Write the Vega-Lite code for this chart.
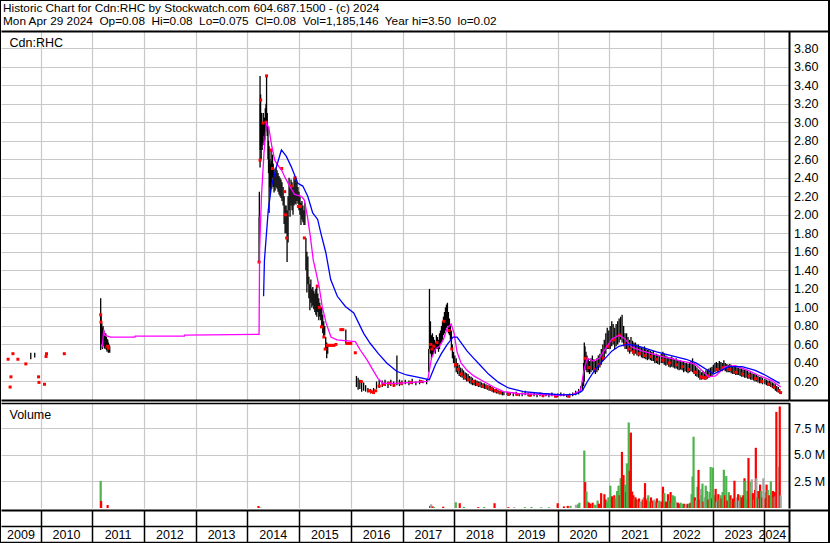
{
"$schema": "https://vega.github.io/schema/vega-lite/v6.json",
"width": 827, "height": 541,
"autosize": {"type": "none"},
"padding": {"left": 1, "top": 1, "right": 2, "bottom": 1},
"background": "black",
"config": {"view": {"fill": "white", "stroke": null}, "font": "Liberation Sans",
  "axis": {"labelFont": "Liberation Sans", "labelFontSize": 12.5, "labelColor": "black", "titleFont": "Liberation Sans", "titleColor": "black"}},
"title": {"text": "Historic Chart for Cdn:RHC by Stockwatch.com 604.687.1500 - (c) 2024",
  "subtitle": "Mon Apr 29 2024\u00a0 Op=0.08\u00a0 Hi=0.08\u00a0 Lo=0.075\u00a0 Cl=0.08\u00a0 Vol=1,185,146\u00a0 Year hi=3.50\u00a0 lo=0.02",
  "anchor": "start", "frame": "group", "orient": "top", "offset": -27, "dx": 2,
  "fontSize": 11.8, "fontWeight": "normal", "color": "black", "font": "Liberation Sans",
  "subtitleFontSize": 11.8, "subtitleColor": "black", "subtitleFont": "Liberation Sans", "subtitlePadding": 1.5},
"datasets": {
 "bars": [
  {"d":"2009-10-23","l":0.44,"h":0.51},{"d":"2009-11-20","l":0.46,"h":0.51},
  {"d":"2011-03-01","l":0.54,"h":1.10},{"d":"2011-03-04","l":0.62,"h":0.92},{"d":"2011-03-09","l":0.60,"h":0.83},{"d":"2011-03-14","l":0.55,"h":0.78},{"d":"2011-03-18","l":0.58,"h":0.80},{"d":"2011-03-23","l":0.60,"h":0.75},{"d":"2011-03-28","l":0.56,"h":0.72},{"d":"2011-04-01","l":0.55,"h":0.70},{"d":"2011-04-06","l":0.58,"h":0.72},{"d":"2011-04-11","l":0.54,"h":0.68},{"d":"2011-04-15","l":0.52,"h":0.66},{"d":"2011-04-20","l":0.55,"h":0.65},{"d":"2011-04-25","l":0.51,"h":0.62},{"d":"2011-04-29","l":0.52,"h":0.60},{"d":"2011-05-04","l":0.51,"h":0.58},
  {"d":"2014-03-24","l":1.49,"h":1.98},{"d":"2014-03-26","l":1.98,"h":2.25},{"d":"2014-03-31","l":2.51,"h":3.50},{"d":"2014-04-02","l":2.70,"h":3.20},{"d":"2014-04-04","l":2.74,"h":3.30},{"d":"2014-04-08","l":2.60,"h":3.05},{"d":"2014-04-11","l":2.75,"h":3.10},{"d":"2014-04-15","l":2.70,"h":2.95},{"d":"2014-04-18","l":2.78,"h":3.00},{"d":"2014-04-23","l":2.85,"h":3.10},{"d":"2014-04-28","l":2.75,"h":3.00},{"d":"2014-05-02","l":2.80,"h":3.05},{"d":"2014-05-07","l":2.85,"h":3.15},{"d":"2014-05-12","l":2.90,"h":3.20},{"d":"2014-05-16","l":2.95,"h":3.50},{"d":"2014-05-21","l":2.85,"h":3.10},{"d":"2014-05-26","l":2.60,"h":2.95},{"d":"2014-05-30","l":2.45,"h":2.80},
  {"d":"2014-06-03","l":2.02,"h":2.74},{"d":"2014-06-08","l":2.30,"h":2.60},{"d":"2014-06-12","l":2.24,"h":2.55},{"d":"2014-06-17","l":2.35,"h":2.70},{"d":"2014-06-22","l":2.28,"h":2.58},{"d":"2014-06-27","l":2.40,"h":2.65},{"d":"2014-07-02","l":2.30,"h":2.55},{"d":"2014-07-08","l":2.24,"h":2.50},{"d":"2014-07-15","l":2.26,"h":2.45},{"d":"2014-07-22","l":2.30,"h":2.51},{"d":"2014-07-29","l":2.28,"h":2.48},{"d":"2014-08-05","l":2.25,"h":2.45},{"d":"2014-08-12","l":2.22,"h":2.42},{"d":"2014-08-19","l":2.20,"h":2.40},{"d":"2014-08-26","l":2.18,"h":2.38},{"d":"2014-09-02","l":2.15,"h":2.35},{"d":"2014-09-10","l":2.10,"h":2.30},{"d":"2014-09-17","l":1.90,"h":2.20},{"d":"2014-09-24","l":1.80,"h":2.10},{"d":"2014-10-01","l":1.80,"h":2.10},{"d":"2014-10-08","l":1.49,"h":2.05},{"d":"2014-10-15","l":1.70,"h":2.20},{"d":"2014-10-22","l":2.05,"h":2.40},{"d":"2014-10-29","l":1.98,"h":2.30},{"d":"2014-11-05","l":2.10,"h":2.38},{"d":"2014-11-12","l":2.05,"h":2.35},{"d":"2014-11-19","l":2.00,"h":2.30},{"d":"2014-11-26","l":2.10,"h":2.40},{"d":"2014-12-03","l":2.12,"h":2.38},{"d":"2014-12-10","l":2.11,"h":2.40},{"d":"2014-12-17","l":2.15,"h":2.35},{"d":"2014-12-24","l":2.12,"h":2.30},{"d":"2014-12-31","l":2.05,"h":2.25},
  {"d":"2015-01-07","l":2.00,"h":2.20},{"d":"2015-01-14","l":1.89,"h":2.13},{"d":"2015-01-21","l":1.95,"h":2.15},{"d":"2015-01-28","l":1.92,"h":2.10},{"d":"2015-02-04","l":1.89,"h":2.05},{"d":"2015-02-11","l":1.89,"h":2.13},{"d":"2015-02-18","l":1.40,"h":1.75},{"d":"2015-02-25","l":1.16,"h":1.60},{"d":"2015-03-04","l":1.25,"h":1.55},{"d":"2015-03-11","l":1.10,"h":1.33},{"d":"2015-03-18","l":0.97,"h":1.25},{"d":"2015-03-25","l":1.05,"h":1.30},{"d":"2015-04-01","l":1.00,"h":1.20},{"d":"2015-04-08","l":1.02,"h":1.22},{"d":"2015-04-15","l":0.98,"h":1.18},{"d":"2015-04-22","l":0.95,"h":1.15},{"d":"2015-04-29","l":0.92,"h":1.20},{"d":"2015-05-06","l":0.90,"h":1.22},{"d":"2015-05-13","l":0.95,"h":1.15},{"d":"2015-05-20","l":0.86,"h":1.10},{"d":"2015-05-27","l":0.90,"h":1.05},{"d":"2015-06-03","l":0.86,"h":1.00},{"d":"2015-06-10","l":0.78,"h":1.00},{"d":"2015-06-17","l":0.72,"h":0.92},{"d":"2015-06-24","l":0.68,"h":0.85},{"d":"2015-07-01","l":0.70,"h":0.80},{"d":"2015-07-08","l":0.55,"h":0.68},{"d":"2015-07-15","l":0.45,"h":0.62},{"d":"2015-07-22","l":0.50,"h":0.60},{"d":"2015-11-27","l":0.61,"h":0.76},
  {"d":"2016-02-10","l":0.14,"h":0.26},{"d":"2016-02-22","l":0.11,"h":0.24},{"d":"2016-03-05","l":0.12,"h":0.22},{"d":"2016-03-18","l":0.09,"h":0.20},{"d":"2016-04-01","l":0.10,"h":0.19},{"d":"2016-04-15","l":0.09,"h":0.16},{"d":"2016-05-01","l":0.08,"h":0.13},{"d":"2016-05-20","l":0.07,"h":0.12},{"d":"2016-06-10","l":0.08,"h":0.13},{"d":"2016-07-01","l":0.12,"h":0.20},{"d":"2016-07-20","l":0.13,"h":0.22},{"d":"2016-08-10","l":0.14,"h":0.21},{"d":"2016-08-30","l":0.15,"h":0.22},{"d":"2016-09-20","l":0.13,"h":0.20},{"d":"2016-10-10","l":0.15,"h":0.22},{"d":"2016-10-30","l":0.14,"h":0.20},{"d":"2016-11-22","l":0.16,"h":0.48},{"d":"2016-12-10","l":0.15,"h":0.22},{"d":"2016-12-28","l":0.16,"h":0.21},
  {"d":"2017-01-20","l":0.17,"h":0.22},{"d":"2017-02-15","l":0.16,"h":0.21},{"d":"2017-03-10","l":0.17,"h":0.23},{"d":"2017-04-05","l":0.16,"h":0.20},{"d":"2017-05-01","l":0.17,"h":0.22},{"d":"2017-05-25","l":0.18,"h":0.21},{"d":"2017-06-20","l":0.17,"h":0.22},
  {"d":"2017-07-05","l":0.30,"h":0.55},{"d":"2017-07-10","l":0.55,"h":1.20},{"d":"2017-07-17","l":0.50,"h":0.85},{"d":"2017-07-24","l":0.45,"h":0.70},{"d":"2017-07-31","l":0.48,"h":0.72},{"d":"2017-08-07","l":0.50,"h":0.68},{"d":"2017-08-14","l":0.52,"h":0.65},{"d":"2017-08-21","l":0.50,"h":0.62},{"d":"2017-08-28","l":0.55,"h":0.70},{"d":"2017-09-05","l":0.55,"h":0.68},{"d":"2017-09-12","l":0.52,"h":0.65},{"d":"2017-09-19","l":0.55,"h":0.72},{"d":"2017-09-26","l":0.60,"h":0.75},{"d":"2017-10-03","l":0.62,"h":0.80},{"d":"2017-10-10","l":0.65,"h":0.85},{"d":"2017-10-17","l":0.70,"h":0.90},{"d":"2017-10-24","l":0.72,"h":0.95},{"d":"2017-10-31","l":0.75,"h":1.00},{"d":"2017-11-07","l":0.78,"h":1.03},{"d":"2017-11-14","l":0.80,"h":1.05},{"d":"2017-11-21","l":0.72,"h":0.95},{"d":"2017-11-28","l":0.70,"h":0.88},{"d":"2017-12-05","l":0.65,"h":0.82},{"d":"2017-12-12","l":0.55,"h":0.75},{"d":"2017-12-19","l":0.45,"h":0.60},{"d":"2017-12-27","l":0.40,"h":0.52},
  {"d":"2018-01-05","l":0.35,"h":0.48},{"d":"2018-01-15","l":0.30,"h":0.45},{"d":"2018-01-25","l":0.28,"h":0.40},{"d":"2018-02-05","l":0.26,"h":0.38},{"d":"2018-02-15","l":0.25,"h":0.35},{"d":"2018-02-26","l":0.24,"h":0.34},{"d":"2018-03-08","l":0.22,"h":0.32},{"d":"2018-03-19","l":0.22,"h":0.30},{"d":"2018-03-29","l":0.20,"h":0.29},{"d":"2018-04-09","l":0.20,"h":0.28},{"d":"2018-04-19","l":0.18,"h":0.26},{"d":"2018-04-30","l":0.17,"h":0.25},{"d":"2018-05-10","l":0.16,"h":0.24},{"d":"2018-05-21","l":0.16,"h":0.22},{"d":"2018-05-31","l":0.15,"h":0.22},{"d":"2018-06-11","l":0.15,"h":0.21},{"d":"2018-06-21","l":0.14,"h":0.20},{"d":"2018-07-02","l":0.14,"h":0.20},{"d":"2018-07-12","l":0.13,"h":0.19},{"d":"2018-07-23","l":0.13,"h":0.18},{"d":"2018-08-02","l":0.12,"h":0.18},{"d":"2018-08-13","l":0.12,"h":0.17},{"d":"2018-08-23","l":0.11,"h":0.16},{"d":"2018-09-04","l":0.10,"h":0.16},{"d":"2018-09-14","l":0.10,"h":0.15},{"d":"2018-09-25","l":0.09,"h":0.14},{"d":"2018-10-05","l":0.08,"h":0.13},{"d":"2018-10-16","l":0.08,"h":0.12},{"d":"2018-10-26","l":0.07,"h":0.12},{"d":"2018-11-06","l":0.07,"h":0.11},{"d":"2018-11-16","l":0.06,"h":0.10},{"d":"2018-11-27","l":0.06,"h":0.10},{"d":"2018-12-07","l":0.05,"h":0.09},{"d":"2018-12-18","l":0.05,"h":0.09},
  {"d":"2019-01-10","l":0.05,"h":0.09},{"d":"2019-02-01","l":0.05,"h":0.08},{"d":"2019-02-22","l":0.04,"h":0.08},{"d":"2019-03-15","l":0.05,"h":0.09},{"d":"2019-04-05","l":0.04,"h":0.07},{"d":"2019-04-26","l":0.04,"h":0.08},{"d":"2019-05-17","l":0.05,"h":0.10},{"d":"2019-06-07","l":0.04,"h":0.08},{"d":"2019-06-28","l":0.04,"h":0.07},{"d":"2019-07-19","l":0.04,"h":0.08},{"d":"2019-08-09","l":0.03,"h":0.07},{"d":"2019-08-30","l":0.04,"h":0.08},{"d":"2019-09-20","l":0.03,"h":0.07},{"d":"2019-10-11","l":0.04,"h":0.07},{"d":"2019-11-01","l":0.03,"h":0.07},{"d":"2019-11-22","l":0.04,"h":0.08},{"d":"2019-12-13","l":0.03,"h":0.06},
  {"d":"2020-01-03","l":0.03,"h":0.07},{"d":"2020-01-24","l":0.04,"h":0.08},{"d":"2020-02-14","l":0.04,"h":0.07},{"d":"2020-03-06","l":0.03,"h":0.06},{"d":"2020-03-27","l":0.03,"h":0.07},{"d":"2020-04-17","l":0.04,"h":0.08},{"d":"2020-05-08","l":0.05,"h":0.10},{"d":"2020-05-29","l":0.06,"h":0.12},{"d":"2020-06-12","l":0.08,"h":0.15},{"d":"2020-06-26","l":0.10,"h":0.20},{"d":"2020-07-03","l":0.15,"h":0.40},{"d":"2020-07-08","l":0.20,"h":0.62},{"d":"2020-07-13","l":0.35,"h":0.58},{"d":"2020-07-20","l":0.32,"h":0.52},{"d":"2020-07-27","l":0.30,"h":0.48},{"d":"2020-08-05","l":0.30,"h":0.45},{"d":"2020-08-14","l":0.28,"h":0.42},{"d":"2020-08-24","l":0.30,"h":0.45},{"d":"2020-09-03","l":0.32,"h":0.48},{"d":"2020-09-14","l":0.30,"h":0.44},{"d":"2020-09-24","l":0.28,"h":0.42},{"d":"2020-10-05","l":0.30,"h":0.45},{"d":"2020-10-15","l":0.32,"h":0.48},{"d":"2020-10-26","l":0.35,"h":0.50},{"d":"2020-11-05","l":0.38,"h":0.55},{"d":"2020-11-16","l":0.42,"h":0.60},{"d":"2020-11-26","l":0.45,"h":0.65},{"d":"2020-12-07","l":0.50,"h":0.72},{"d":"2020-12-17","l":0.55,"h":0.78},{"d":"2020-12-28","l":0.55,"h":0.75},
  {"d":"2021-01-07","l":0.55,"h":0.80},{"d":"2021-01-18","l":0.58,"h":0.85},{"d":"2021-01-28","l":0.60,"h":0.82},{"d":"2021-02-08","l":0.55,"h":0.78},{"d":"2021-02-18","l":0.58,"h":0.82},{"d":"2021-03-01","l":0.60,"h":0.85},{"d":"2021-03-11","l":0.62,"h":0.88},{"d":"2021-03-22","l":0.65,"h":0.90},{"d":"2021-04-01","l":0.62,"h":0.92},{"d":"2021-04-12","l":0.58,"h":0.80},{"d":"2021-04-22","l":0.55,"h":0.72},{"d":"2021-05-03","l":0.55,"h":0.72},{"d":"2021-05-13","l":0.52,"h":0.68},{"d":"2021-05-24","l":0.50,"h":0.65},{"d":"2021-06-03","l":0.52,"h":0.68},{"d":"2021-06-14","l":0.50,"h":0.64},{"d":"2021-06-24","l":0.48,"h":0.62},{"d":"2021-07-05","l":0.50,"h":0.62},{"d":"2021-07-15","l":0.48,"h":0.60},{"d":"2021-07-26","l":0.47,"h":0.60},{"d":"2021-08-05","l":0.48,"h":0.58},{"d":"2021-08-16","l":0.46,"h":0.57},{"d":"2021-08-26","l":0.45,"h":0.56},{"d":"2021-09-06","l":0.45,"h":0.58},{"d":"2021-09-16","l":0.44,"h":0.55},{"d":"2021-09-27","l":0.43,"h":0.54},{"d":"2021-10-07","l":0.44,"h":0.55},{"d":"2021-10-18","l":0.43,"h":0.53},{"d":"2021-10-28","l":0.42,"h":0.52},{"d":"2021-11-08","l":0.42,"h":0.53},{"d":"2021-11-18","l":0.40,"h":0.50},{"d":"2021-11-29","l":0.40,"h":0.50},{"d":"2021-12-09","l":0.39,"h":0.49},{"d":"2021-12-20","l":0.38,"h":0.48},
  {"d":"2022-01-03","l":0.40,"h":0.50},{"d":"2022-01-14","l":0.40,"h":0.52},{"d":"2022-01-24","l":0.38,"h":0.50},{"d":"2022-02-04","l":0.37,"h":0.48},{"d":"2022-02-14","l":0.38,"h":0.47},{"d":"2022-02-25","l":0.36,"h":0.46},{"d":"2022-03-07","l":0.35,"h":0.46},{"d":"2022-03-18","l":0.36,"h":0.47},{"d":"2022-03-28","l":0.35,"h":0.45},{"d":"2022-04-08","l":0.34,"h":0.44},{"d":"2022-04-18","l":0.34,"h":0.45},{"d":"2022-04-29","l":0.33,"h":0.43},{"d":"2022-05-09","l":0.32,"h":0.42},{"d":"2022-05-20","l":0.33,"h":0.43},{"d":"2022-05-30","l":0.32,"h":0.42},{"d":"2022-06-10","l":0.30,"h":0.42},{"d":"2022-06-20","l":0.31,"h":0.40},{"d":"2022-07-01","l":0.30,"h":0.40},{"d":"2022-07-11","l":0.29,"h":0.39},{"d":"2022-07-22","l":0.30,"h":0.40},{"d":"2022-08-01","l":0.31,"h":0.42},{"d":"2022-08-12","l":0.30,"h":0.45},{"d":"2022-08-22","l":0.28,"h":0.40},{"d":"2022-09-02","l":0.26,"h":0.37},{"d":"2022-09-12","l":0.25,"h":0.35},{"d":"2022-09-23","l":0.24,"h":0.33},{"d":"2022-10-03","l":0.22,"h":0.32},{"d":"2022-10-14","l":0.22,"h":0.30},{"d":"2022-10-24","l":0.23,"h":0.31},{"d":"2022-11-04","l":0.22,"h":0.30},{"d":"2022-11-14","l":0.22,"h":0.32},{"d":"2022-11-25","l":0.23,"h":0.33},{"d":"2022-12-05","l":0.24,"h":0.34},{"d":"2022-12-16","l":0.25,"h":0.35},{"d":"2022-12-27","l":0.26,"h":0.36},
  {"d":"2023-01-06","l":0.28,"h":0.38},{"d":"2023-01-17","l":0.30,"h":0.40},{"d":"2023-01-27","l":0.31,"h":0.41},{"d":"2023-02-07","l":0.30,"h":0.40},{"d":"2023-02-17","l":0.32,"h":0.42},{"d":"2023-02-28","l":0.32,"h":0.41},{"d":"2023-03-10","l":0.31,"h":0.40},{"d":"2023-03-21","l":0.32,"h":0.43},{"d":"2023-03-31","l":0.31,"h":0.40},{"d":"2023-04-11","l":0.30,"h":0.39},{"d":"2023-04-21","l":0.30,"h":0.38},{"d":"2023-05-02","l":0.30,"h":0.39},{"d":"2023-05-12","l":0.29,"h":0.38},{"d":"2023-05-23","l":0.28,"h":0.36},{"d":"2023-06-02","l":0.28,"h":0.37},{"d":"2023-06-13","l":0.27,"h":0.36},{"d":"2023-06-23","l":0.27,"h":0.35},{"d":"2023-07-04","l":0.27,"h":0.35},{"d":"2023-07-14","l":0.26,"h":0.34},{"d":"2023-07-25","l":0.25,"h":0.34},{"d":"2023-08-04","l":0.25,"h":0.33},{"d":"2023-08-15","l":0.24,"h":0.33},{"d":"2023-08-25","l":0.24,"h":0.32},{"d":"2023-09-05","l":0.23,"h":0.32},{"d":"2023-09-15","l":0.23,"h":0.30},{"d":"2023-09-26","l":0.22,"h":0.30},{"d":"2023-10-06","l":0.22,"h":0.29},{"d":"2023-10-17","l":0.21,"h":0.28},{"d":"2023-10-27","l":0.20,"h":0.28},{"d":"2023-11-07","l":0.20,"h":0.27},{"d":"2023-11-17","l":0.19,"h":0.26},{"d":"2023-11-28","l":0.18,"h":0.25},{"d":"2023-12-08","l":0.18,"h":0.25},{"d":"2023-12-19","l":0.17,"h":0.24},
  {"d":"2024-01-05","l":0.17,"h":0.23},{"d":"2024-01-16","l":0.16,"h":0.22},{"d":"2024-01-26","l":0.15,"h":0.21},{"d":"2024-02-06","l":0.15,"h":0.21},{"d":"2024-02-16","l":0.14,"h":0.20},{"d":"2024-02-27","l":0.13,"h":0.19},{"d":"2024-03-08","l":0.12,"h":0.18},{"d":"2024-03-19","l":0.10,"h":0.17},{"d":"2024-03-29","l":0.09,"h":0.15},{"d":"2024-04-09","l":0.08,"h":0.14},{"d":"2024-04-19","l":0.07,"h":0.12},{"d":"2024-04-29","l":0.075,"h":0.08}
 ],
 "dots": [
  {"d":"2009-05-16","p":0.44},{"d":"2009-05-30","p":0.14},{"d":"2009-06-05","p":0.25},{"d":"2009-06-19","p":0.50},{"d":"2009-07-24","p":0.44},{"d":"2009-09-18","p":0.39},{"d":"2009-12-17","p":0.25},{"d":"2009-12-20","p":0.19},{"d":"2010-01-28","p":0.17},{"d":"2010-02-08","p":0.47},{"d":"2010-02-11","p":0.50},{"d":"2010-06-17","p":0.50},
  {"d":"2011-03-01","p":0.92},{"d":"2011-03-03","p":0.84},{"d":"2011-04-19","p":0.58},{"d":"2011-04-24","p":0.56},
  {"d":"2014-03-24","p":1.49},{"d":"2014-03-31","p":2.59},{"d":"2014-04-04","p":3.24},{"d":"2014-04-21","p":2.99},{"d":"2014-05-16","p":3.50},{"d":"2014-05-12","p":3.00},{"d":"2014-06-20","p":2.70},{"d":"2014-06-26","p":2.50},{"d":"2014-08-31","p":2.50},{"d":"2014-09-21","p":2.25},{"d":"2014-09-26","p":2.00},{"d":"2014-10-05","p":1.75},{"d":"2014-11-06","p":2.31},{"d":"2014-12-03","p":2.40},{"d":"2014-12-27","p":2.09},{"d":"2015-01-10","p":2.09},{"d":"2015-02-07","p":1.75},{"d":"2015-05-09","p":1.23},{"d":"2015-05-24","p":1.00},{"d":"2015-06-08","p":0.79},{"d":"2015-06-25","p":0.68},{"d":"2015-07-04","p":0.55},{"d":"2015-07-18","p":0.59},{"d":"2015-07-25","p":0.59},{"d":"2015-08-07","p":0.59},{"d":"2015-08-21","p":0.59},{"d":"2015-09-04","p":0.59},{"d":"2015-09-18","p":0.60},{"d":"2015-10-23","p":0.76},{"d":"2015-11-06","p":0.76},{"d":"2015-12-04","p":0.61},{"d":"2015-12-20","p":0.61},{"d":"2016-01-01","p":0.61},{"d":"2016-02-02","p":0.51},{"d":"2016-03-15","p":0.20},{"d":"2016-05-10","p":0.10},{"d":"2016-05-25","p":0.09},{"d":"2016-06-10","p":0.08},{"d":"2016-06-25","p":0.10},{"d":"2016-07-20","p":0.15},{"d":"2016-08-20","p":0.17},{"d":"2016-10-01","p":0.18},{"d":"2016-11-01","p":0.16},{"d":"2016-12-20","p":0.18},{"d":"2017-03-01","p":0.19},{"d":"2017-05-10","p":0.20},
  {"d":"2017-07-20","p":0.60},{"d":"2017-07-28","p":0.55},{"d":"2017-08-10","p":0.58},{"d":"2017-09-01","p":0.62},{"d":"2017-10-20","p":0.85},{"d":"2017-11-25","p":0.75},{"d":"2017-12-15","p":0.55},{"d":"2018-01-10","p":0.38},{"d":"2018-01-30","p":0.33},{"d":"2018-02-20","p":0.28},{"d":"2018-03-15","p":0.25},{"d":"2018-04-10","p":0.22},{"d":"2018-05-15","p":0.20},{"d":"2018-06-15","p":0.17},{"d":"2018-07-20","p":0.15},{"d":"2018-08-20","p":0.14},{"d":"2018-09-20","p":0.12},{"d":"2018-10-20","p":0.10},{"d":"2018-11-20","p":0.08},{"d":"2019-01-20","p":0.06},{"d":"2019-03-20","p":0.06},{"d":"2019-06-20","p":0.05},{"d":"2019-09-20","p":0.05},{"d":"2019-12-20","p":0.04},{"d":"2020-03-20","p":0.04},{"d":"2020-07-15","p":0.45},{"d":"2020-08-10","p":0.35},{"d":"2020-09-20","p":0.33},{"d":"2020-10-20","p":0.38},{"d":"2020-11-20","p":0.45},{"d":"2020-12-20","p":0.58},{"d":"2021-02-01","p":0.65},{"d":"2021-03-15","p":0.70},{"d":"2021-04-20","p":0.60},{"d":"2021-05-20","p":0.55},{"d":"2021-06-20","p":0.52},{"d":"2021-08-01","p":0.50},{"d":"2021-09-10","p":0.48},{"d":"2021-10-20","p":0.47},{"d":"2021-12-01","p":0.44},{"d":"2022-01-15","p":0.43},{"d":"2022-03-01","p":0.40},{"d":"2022-04-20","p":0.38},{"d":"2022-06-01","p":0.36},{"d":"2022-07-15","p":0.33},{"d":"2022-09-01","p":0.30},{"d":"2022-10-10","p":0.25},{"d":"2022-10-25","p":0.24},{"d":"2022-11-10","p":0.24},{"d":"2022-12-01","p":0.26},{"d":"2023-02-01","p":0.33},{"d":"2023-03-15","p":0.35},{"d":"2023-05-01","p":0.33},{"d":"2023-06-15","p":0.30},{"d":"2023-08-01","p":0.28},{"d":"2023-09-15","p":0.26},{"d":"2023-11-01","p":0.23},{"d":"2023-12-15","p":0.20},{"d":"2024-02-01","p":0.17},{"d":"2024-03-10","p":0.14},{"d":"2024-04-10","p":0.10},{"d":"2024-04-25","p":0.08}
 ],
 "ma1": [
  {"d":"2011-03-08","v":0.56},{"d":"2011-03-14","v":0.60},{"d":"2011-03-22","v":0.76},{"d":"2011-03-29","v":0.70},{"d":"2011-05-10","v":0.68},{"d":"2011-10-29","v":0.68},{"d":"2011-10-30","v":0.69},{"d":"2012-10-13","v":0.69},{"d":"2012-10-14","v":0.70},{"d":"2014-03-24","v":0.71},
  {"d":"2014-03-28","v":1.62},{"d":"2014-04-10","v":2.20},{"d":"2014-04-28","v":2.67},{"d":"2014-05-14","v":2.99},{"d":"2014-06-01","v":2.94},{"d":"2014-06-22","v":2.74},{"d":"2014-07-13","v":2.59},{"d":"2014-08-10","v":2.52},{"d":"2014-08-31","v":2.48},{"d":"2014-09-21","v":2.41},{"d":"2014-10-26","v":2.31},{"d":"2014-11-30","v":2.22},{"d":"2015-01-17","v":2.20},{"d":"2015-02-07","v":2.16},{"d":"2015-03-01","v":1.98},{"d":"2015-03-21","v":1.77},{"d":"2015-04-11","v":1.51},{"d":"2015-05-02","v":1.37},{"d":"2015-05-23","v":1.22},{"d":"2015-06-13","v":1.01},{"d":"2015-07-11","v":0.83},{"d":"2015-08-14","v":0.68},{"d":"2015-09-25","v":0.65},{"d":"2016-02-02","v":0.63},{"d":"2016-03-08","v":0.54},{"d":"2016-04-26","v":0.43},{"d":"2016-06-07","v":0.32},{"d":"2016-07-12","v":0.23},{"d":"2016-08-16","v":0.18},{"d":"2016-11-22","v":0.18},{"d":"2017-06-26","v":0.20},
  {"d":"2017-07-24","v":0.45},{"d":"2017-08-21","v":0.55},{"d":"2017-09-18","v":0.58},{"d":"2017-10-16","v":0.65},{"d":"2017-11-13","v":0.78},{"d":"2017-12-10","v":0.82},{"d":"2017-12-31","v":0.72},{"d":"2018-01-21","v":0.52},{"d":"2018-02-18","v":0.40},{"d":"2018-04-01","v":0.32},{"d":"2018-05-19","v":0.26},{"d":"2018-07-28","v":0.20},{"d":"2018-10-06","v":0.14},{"d":"2018-12-15","v":0.09},{"d":"2019-03-28","v":0.07},{"d":"2019-08-15","v":0.06},{"d":"2020-01-02","v":0.05},{"d":"2020-04-16","v":0.06},{"d":"2020-06-11","v":0.10},{"d":"2020-07-09","v":0.35},{"d":"2020-07-30","v":0.45},{"d":"2020-09-10","v":0.42},{"d":"2020-10-21","v":0.45},{"d":"2020-12-02","v":0.55},{"d":"2021-01-20","v":0.66},{"d":"2021-03-10","v":0.70},{"d":"2021-04-21","v":0.66},{"d":"2021-06-09","v":0.57},{"d":"2021-08-18","v":0.53},{"d":"2021-10-27","v":0.50},{"d":"2022-01-04","v":0.47},{"d":"2022-03-14","v":0.45},{"d":"2022-05-23","v":0.42},{"d":"2022-07-31","v":0.40},{"d":"2022-09-05","v":0.38},{"d":"2022-12-04","v":0.25},{"d":"2023-01-22","v":0.26},{"d":"2023-04-01","v":0.36},{"d":"2023-06-10","v":0.37},{"d":"2023-09-08","v":0.32},{"d":"2023-11-17","v":0.27},{"d":"2024-02-23","v":0.21},{"d":"2024-04-26","v":0.14}
 ],
 "ma2": [
  {"d":"2014-04-25","v":1.12},{"d":"2014-05-01","v":1.51},{"d":"2014-05-28","v":2.05},{"d":"2014-06-20","v":2.31},{"d":"2014-07-25","v":2.52},{"d":"2014-08-29","v":2.70},{"d":"2014-10-03","v":2.63},{"d":"2014-11-06","v":2.52},{"d":"2014-12-23","v":2.34},{"d":"2015-01-27","v":2.31},{"d":"2015-03-03","v":2.20},{"d":"2015-04-07","v":2.02},{"d":"2015-05-12","v":1.95},{"d":"2015-06-04","v":1.80},{"d":"2015-07-09","v":1.59},{"d":"2015-08-12","v":1.30},{"d":"2015-09-28","v":1.12},{"d":"2015-11-24","v":1.01},{"d":"2016-01-22","v":0.94},{"d":"2016-02-26","v":0.83},{"d":"2016-04-01","v":0.72},{"d":"2016-05-18","v":0.61},{"d":"2016-07-14","v":0.50},{"d":"2016-09-11","v":0.40},{"d":"2016-11-20","v":0.31},{"d":"2017-01-29","v":0.27},{"d":"2017-04-08","v":0.25},{"d":"2017-07-09","v":0.22},
  {"d":"2017-08-21","v":0.38},{"d":"2017-10-02","v":0.50},{"d":"2017-11-13","v":0.60},{"d":"2017-12-24","v":0.68},{"d":"2018-01-21","v":0.68},{"d":"2018-02-18","v":0.62},{"d":"2018-04-01","v":0.53},{"d":"2018-05-19","v":0.45},{"d":"2018-07-07","v":0.37},{"d":"2018-08-31","v":0.28},{"d":"2018-11-10","v":0.19},{"d":"2019-01-19","v":0.13},{"d":"2019-05-05","v":0.09},{"d":"2019-09-20","v":0.07},{"d":"2020-02-05","v":0.055},{"d":"2020-05-06","v":0.06},{"d":"2020-06-24","v":0.10},{"d":"2020-07-30","v":0.20},{"d":"2020-09-10","v":0.30},{"d":"2020-10-21","v":0.38},{"d":"2020-12-02","v":0.45},{"d":"2021-01-20","v":0.53},{"d":"2021-03-10","v":0.58},{"d":"2021-05-05","v":0.60},{"d":"2021-06-30","v":0.59},{"d":"2021-09-08","v":0.56},{"d":"2021-12-01","v":0.52},{"d":"2022-03-14","v":0.48},{"d":"2022-06-27","v":0.44},{"d":"2022-09-05","v":0.40},{"d":"2023-01-08","v":0.28},{"d":"2023-04-22","v":0.36},{"d":"2023-07-28","v":0.36},{"d":"2023-10-29","v":0.32},{"d":"2024-01-06","v":0.27},{"d":"2024-04-19","v":0.18}
 ],
 "vol": [
  {"d":"2011-03-01","v":2550000,"c":"up"},{"d":"2011-03-04","v":660000,"c":"down"},{"d":"2011-04-19","v":280000,"c":"down"},
  {"d":"2014-03-20","v":190000,"c":"down"},{"d":"2014-04-03","v":50000,"c":"up"},
  {"d":"2017-07-15","v":200000,"c":"down"},{"d":"2017-07-22","v":350000,"c":"flat"},{"d":"2017-08-02","v":150000,"c":"down"},{"d":"2017-08-10","v":100000,"c":"up"},{"d":"2017-10-15","v":120000,"c":"down"},{"d":"2018-01-12","v":540000,"c":"up"},{"d":"2018-02-09","v":450000,"c":"down"},{"d":"2018-03-10","v":100000,"c":"up"},{"d":"2018-06-20","v":80000,"c":"down"},{"d":"2018-08-01","v":100000,"c":"up"},{"d":"2018-10-13","v":450000,"c":"down"},{"d":"2019-01-19","v":80000,"c":"down"},{"d":"2019-03-01","v":80000,"c":"flat"},{"d":"2019-05-15","v":80000,"c":"up"},{"d":"2019-07-01","v":100000,"c":"up"},{"d":"2019-09-08","v":60000,"c":"up"},{"d":"2019-11-01","v":70000,"c":"up"},
  {"d":"2020-01-02","v":450000,"c":"down"},{"d":"2020-02-15","v":150000,"c":"down"},{"d":"2020-03-13","v":200000,"c":"down"},{"d":"2020-04-01","v":200000,"c":"up"},{"d":"2020-05-10","v":300000,"c":"flat"},{"d":"2020-05-25","v":350000,"c":"up"},{"d":"2020-06-03","v":500000,"c":"up"},{"d":"2020-07-08","v":5400000,"c":"up"},{"d":"2020-07-14","v":2440000,"c":"down"},{"d":"2020-07-23","v":1550000,"c":"up"},{"d":"2020-08-01","v":600000,"c":"up"},{"d":"2020-08-11","v":500000,"c":"down"},{"d":"2020-08-20","v":400000,"c":"down"},{"d":"2020-09-05","v":500000,"c":"down"},{"d":"2020-09-15","v":300000,"c":"up"},{"d":"2020-09-25","v":300000,"c":"up"},{"d":"2020-10-10","v":700000,"c":"up"},{"d":"2020-10-20","v":400000,"c":"down"},{"d":"2020-11-04","v":1400000,"c":"down"},{"d":"2020-11-27","v":1300000,"c":"down"},{"d":"2020-12-05","v":800000,"c":"down"},{"d":"2020-12-16","v":600000,"c":"up"},{"d":"2020-12-25","v":1000000,"c":"up"},
  {"d":"2021-01-08","v":2100000,"c":"up"},{"d":"2021-01-20","v":1100000,"c":"down"},{"d":"2021-02-05","v":1200000,"c":"down"},{"d":"2021-02-15","v":900000,"c":"up"},{"d":"2021-02-25","v":1600000,"c":"up"},{"d":"2021-03-07","v":2100000,"c":"up"},{"d":"2021-03-15","v":1200000,"c":"down"},{"d":"2021-03-22","v":2800000,"c":"up"},{"d":"2021-03-31","v":5280000,"c":"down"},{"d":"2021-04-05","v":1700000,"c":"down"},{"d":"2021-04-11","v":3100000,"c":"down"},{"d":"2021-04-23","v":2200000,"c":"up"},{"d":"2021-04-30","v":1500000,"c":"down"},{"d":"2021-05-05","v":4200000,"c":"up"},{"d":"2021-05-10","v":2600000,"c":"up"},{"d":"2021-05-18","v":8040000,"c":"up"},{"d":"2021-05-25","v":3500000,"c":"down"},{"d":"2021-06-02","v":7090000,"c":"down"},{"d":"2021-06-06","v":1300000,"c":"down"},{"d":"2021-06-11","v":1550000,"c":"down"},{"d":"2021-06-20","v":1200000,"c":"down"},{"d":"2021-06-28","v":900000,"c":"up"},{"d":"2021-07-05","v":1000000,"c":"down"},{"d":"2021-07-13","v":800000,"c":"down"},{"d":"2021-07-22","v":700000,"c":"up"},{"d":"2021-07-30","v":900000,"c":"down"},{"d":"2021-08-06","v":600000,"c":"up"},{"d":"2021-08-15","v":600000,"c":"flat"},{"d":"2021-08-25","v":800000,"c":"down"},{"d":"2021-09-02","v":1000000,"c":"up"},{"d":"2021-09-10","v":2340000,"c":"down"},{"d":"2021-09-20","v":700000,"c":"down"},{"d":"2021-09-28","v":900000,"c":"down"},{"d":"2021-10-03","v":1200000,"c":"up"},{"d":"2021-10-12","v":600000,"c":"up"},{"d":"2021-10-22","v":1000000,"c":"down"},{"d":"2021-10-30","v":500000,"c":"up"},{"d":"2021-11-07","v":700000,"c":"down"},{"d":"2021-11-15","v":800000,"c":"flat"},{"d":"2021-11-25","v":600000,"c":"up"},{"d":"2021-12-03","v":900000,"c":"down"},{"d":"2021-12-12","v":500000,"c":"flat"},{"d":"2021-12-20","v":700000,"c":"up"},
  {"d":"2022-01-05","v":600000,"c":"down"},{"d":"2022-01-15","v":2000000,"c":"down"},{"d":"2022-01-25","v":1400000,"c":"up"},{"d":"2022-02-05","v":600000,"c":"down"},{"d":"2022-02-19","v":1300000,"c":"down"},{"d":"2022-02-28","v":700000,"c":"up"},{"d":"2022-03-10","v":1500000,"c":"down"},{"d":"2022-03-18","v":500000,"c":"up"},{"d":"2022-03-26","v":1200000,"c":"up"},{"d":"2022-04-08","v":1100000,"c":"up"},{"d":"2022-04-18","v":600000,"c":"flat"},{"d":"2022-04-30","v":500000,"c":"down"},{"d":"2022-05-10","v":400000,"c":"down"},{"d":"2022-05-20","v":500000,"c":"up"},{"d":"2022-06-04","v":400000,"c":"up"},{"d":"2022-06-15","v":400000,"c":"down"},{"d":"2022-06-25","v":300000,"c":"flat"},{"d":"2022-07-08","v":400000,"c":"down"},{"d":"2022-07-20","v":400000,"c":"up"},{"d":"2022-07-28","v":500000,"c":"down"},{"d":"2022-08-05","v":1300000,"c":"up"},{"d":"2022-08-12","v":2970000,"c":"up"},{"d":"2022-08-19","v":6700000,"c":"up"},{"d":"2022-08-28","v":1000000,"c":"down"},{"d":"2022-09-05","v":700000,"c":"flat"},{"d":"2022-09-16","v":2000000,"c":"up"},{"d":"2022-09-23","v":3580000,"c":"down"},{"d":"2022-10-01","v":800000,"c":"down"},{"d":"2022-10-09","v":1800000,"c":"flat"},{"d":"2022-10-15","v":1200000,"c":"up"},{"d":"2022-10-21","v":2300000,"c":"up"},{"d":"2022-10-28","v":600000,"c":"down"},{"d":"2022-11-05","v":1000000,"c":"flat"},{"d":"2022-11-13","v":2100000,"c":"up"},{"d":"2022-11-22","v":1600000,"c":"up"},{"d":"2022-12-02","v":800000,"c":"down"},{"d":"2022-12-10","v":1500000,"c":"up"},{"d":"2022-12-18","v":3860000,"c":"up"},{"d":"2022-12-28","v":900000,"c":"down"},
  {"d":"2023-01-03","v":3800000,"c":"up"},{"d":"2023-01-12","v":1200000,"c":"up"},{"d":"2023-01-22","v":1800000,"c":"down"},{"d":"2023-01-30","v":600000,"c":"flat"},{"d":"2023-02-10","v":1300000,"c":"down"},{"d":"2023-02-18","v":800000,"c":"up"},{"d":"2023-02-26","v":1200000,"c":"up"},{"d":"2023-03-05","v":900000,"c":"down"},{"d":"2023-03-12","v":1500000,"c":"up"},{"d":"2023-03-21","v":3600000,"c":"up"},{"d":"2023-03-30","v":1200000,"c":"down"},{"d":"2023-04-07","v":3000000,"c":"up"},{"d":"2023-04-15","v":700000,"c":"down"},{"d":"2023-04-25","v":1500000,"c":"up"},{"d":"2023-05-07","v":1200000,"c":"down"},{"d":"2023-05-15","v":800000,"c":"up"},{"d":"2023-05-25","v":900000,"c":"down"},{"d":"2023-06-04","v":2560000,"c":"down"},{"d":"2023-06-12","v":600000,"c":"up"},{"d":"2023-06-22","v":1000000,"c":"flat"},{"d":"2023-06-30","v":1300000,"c":"down"},{"d":"2023-07-05","v":700000,"c":"flat"},{"d":"2023-07-15","v":1200000,"c":"up"},{"d":"2023-07-25","v":1000000,"c":"down"},{"d":"2023-08-05","v":1200000,"c":"down"},{"d":"2023-08-14","v":2800000,"c":"down"},{"d":"2023-08-19","v":2560000,"c":"up"},{"d":"2023-08-28","v":800000,"c":"up"},{"d":"2023-09-03","v":1600000,"c":"up"},{"d":"2023-09-11","v":4700000,"c":"down"},{"d":"2023-09-18","v":900000,"c":"down"},{"d":"2023-09-23","v":2500000,"c":"up"},{"d":"2023-09-28","v":1900000,"c":"up"},{"d":"2023-10-05","v":2700000,"c":"flat"},{"d":"2023-10-12","v":1400000,"c":"down"},{"d":"2023-10-20","v":800000,"c":"up"},{"d":"2023-10-28","v":1700000,"c":"down"},{"d":"2023-11-02","v":5660000,"c":"down"},{"d":"2023-11-06","v":2800000,"c":"flat"},{"d":"2023-11-12","v":1000000,"c":"up"},{"d":"2023-11-20","v":1600000,"c":"down"},{"d":"2023-11-28","v":900000,"c":"flat"},{"d":"2023-12-02","v":2200000,"c":"down"},{"d":"2023-12-10","v":1600000,"c":"up"},{"d":"2023-12-18","v":1000000,"c":"down"},{"d":"2023-12-25","v":2800000,"c":"flat"},
  {"d":"2024-01-05","v":1500000,"c":"flat"},{"d":"2024-01-10","v":900000,"c":"down"},{"d":"2024-01-17","v":2200000,"c":"down"},{"d":"2024-01-25","v":1700000,"c":"up"},{"d":"2024-02-05","v":1200000,"c":"down"},{"d":"2024-02-16","v":2500000,"c":"up"},{"d":"2024-02-25","v":1500000,"c":"up"},{"d":"2024-03-03","v":1600000,"c":"down"},{"d":"2024-03-08","v":1000000,"c":"up"},{"d":"2024-03-14","v":1500000,"c":"down"},{"d":"2024-03-20","v":1100000,"c":"flat"},{"d":"2024-03-26","v":9040000,"c":"down"},{"d":"2024-04-02","v":1400000,"c":"down"},{"d":"2024-04-07","v":3900000,"c":"flat"},{"d":"2024-04-12","v":1000000,"c":"flat"},{"d":"2024-04-19","v":9550000,"c":"down"},{"d":"2024-04-26","v":1185146,"c":"flat"}
 ],
 "years": [
  {"yr":"2009","d":"2009-08-15"},{"yr":"2010","d":"2010-07-02"},{"yr":"2011","d":"2011-07-02"},{"yr":"2012","d":"2012-07-02"},{"yr":"2013","d":"2013-07-02"},{"yr":"2014","d":"2014-07-02"},{"yr":"2015","d":"2015-07-02"},{"yr":"2016","d":"2016-07-02"},{"yr":"2017","d":"2017-07-02"},{"yr":"2018","d":"2018-07-02"},{"yr":"2019","d":"2019-07-02"},{"yr":"2020","d":"2020-07-02"},{"yr":"2021","d":"2021-07-02"},{"yr":"2022","d":"2022-07-02"},{"yr":"2023","d":"2023-07-02"},{"yr":"2024","d":"2024-02-27"}
 ]
},
"layer": [
  {"data": {"name": "bars"}, "mark": {"type": "rule", "color": "black", "strokeWidth": 1.3},
   "encoding": {
    "x": {"field": "d", "type": "temporal",
      "scale": {"domain": [{"year":2009,"month":5,"date":1},{"year":2024,"month":5,"date":19}], "range": [0, 788]},
      "axis": {"orient": "top", "title": null, "labels": false, "ticks": false, "domain": false, "grid": true, "gridColor": "#c8c8c8", "gridWidth": 1.2,
        "values": [{"year":2010,"month":1,"date":1},{"year":2011,"month":1,"date":1},{"year":2012,"month":1,"date":1},{"year":2013,"month":1,"date":1},{"year":2014,"month":1,"date":1},{"year":2015,"month":1,"date":1},{"year":2016,"month":1,"date":1},{"year":2017,"month":1,"date":1},{"year":2018,"month":1,"date":1},{"year":2019,"month":1,"date":1},{"year":2020,"month":1,"date":1},{"year":2021,"month":1,"date":1},{"year":2022,"month":1,"date":1},{"year":2023,"month":1,"date":1},{"year":2024,"month":1,"date":1}]}},
    "y": {"field": "l", "type": "quantitative",
      "scale": {"domain": [0, 3.99], "range": [399, 29.5], "nice": false, "zero": false},
      "axis": {"orient": "left", "offset": -788, "title": "Cdn:RHC", "titleAngle": 0, "titleAlign": "left", "titleBaseline": "alphabetic", "titleX": -780, "titleY": 45, "titleFontSize": 12.5, "titleFontWeight": "normal",
        "values": [0, 0.2, 0.4, 0.6, 0.8, 1, 1.2, 1.4, 1.6, 1.8, 2, 2.2, 2.4, 2.6, 2.8, 3, 3.2, 3.4, 3.6, 3.8, 3.99],
        "labelExpr": "datum.value < 0.1 || datum.value > 3.9 ? '' : format(datum.value, '.2f')",
        "labelAlign": "left", "labelPadding": 34.5,
        "grid": true, "gridColor": {"condition": {"test": "datum.value < 0.1 || datum.value > 3.9", "value": "black"}, "value": "#c8c8c8"},
        "gridWidth": {"condition": {"test": "datum.value < 0.1 || datum.value > 3.9", "value": 1.8}, "value": 1.2},
        "ticks": true, "tickSize": -39, "tickWidth": 1.8, "tickColor": {"condition": {"test": "datum.value < 0.1 || datum.value > 3.9", "value": "black"}, "value": "transparent"},
        "domain": true, "domainColor": "black", "domainWidth": 2}},
    "y2": {"field": "h"}}},
  {"data": {"name": "dots"}, "mark": {"type": "square", "color": "#ff0000", "size": 9, "opacity": 1, "filled": true},
   "encoding": {
    "x": {"field": "d", "type": "temporal", "scale": {"domain": [{"year":2009,"month":5,"date":1},{"year":2024,"month":5,"date":19}], "range": [0, 788]}, "axis": null},
    "y": {"field": "p", "type": "quantitative", "scale": {"domain": [0, 3.99], "range": [399, 29.5], "nice": false, "zero": false}, "axis": null}}},
  {"data": {"name": "ma1"}, "mark": {"type": "line", "color": "#ff00ff", "strokeWidth": 1.3},
   "encoding": {
    "x": {"field": "d", "type": "temporal", "scale": {"domain": [{"year":2009,"month":5,"date":1},{"year":2024,"month":5,"date":19}], "range": [0, 788]}, "axis": null},
    "y": {"field": "v", "type": "quantitative", "scale": {"domain": [0, 3.99], "range": [399, 29.5], "nice": false, "zero": false}, "axis": null}}},
  {"data": {"name": "ma2"}, "mark": {"type": "line", "color": "#0000ff", "strokeWidth": 1.3},
   "encoding": {
    "x": {"field": "d", "type": "temporal", "scale": {"domain": [{"year":2009,"month":5,"date":1},{"year":2024,"month":5,"date":19}], "range": [0, 788]}, "axis": null},
    "y": {"field": "v", "type": "quantitative", "scale": {"domain": [0, 3.99], "range": [399, 29.5], "nice": false, "zero": false}, "axis": null}}},
  {"data": {"name": "vol"}, "mark": {"type": "bar", "size": 2.2},
   "encoding": {
    "x": {"field": "d", "type": "temporal",
      "scale": {"domain": [{"year":2009,"month":5,"date":1},{"year":2024,"month":5,"date":19}], "range": [0, 788]},
      "axis": {"orient": "top", "title": null, "labels": false, "ticks": false, "domain": false, "grid": true, "gridColor": "#c8c8c8", "gridWidth": 1.2,
        "values": [{"year":2010,"month":1,"date":1},{"year":2011,"month":1,"date":1},{"year":2012,"month":1,"date":1},{"year":2013,"month":1,"date":1},{"year":2014,"month":1,"date":1},{"year":2015,"month":1,"date":1},{"year":2016,"month":1,"date":1},{"year":2017,"month":1,"date":1},{"year":2018,"month":1,"date":1},{"year":2019,"month":1,"date":1},{"year":2020,"month":1,"date":1},{"year":2021,"month":1,"date":1},{"year":2022,"month":1,"date":1},{"year":2023,"month":1,"date":1},{"year":2024,"month":1,"date":1}]}},
    "y": {"field": "v", "type": "quantitative",
      "scale": {"domain": [0, 9920000], "range": [507, 401.5], "nice": false, "zero": true},
      "axis": {"orient": "left", "offset": -788, "title": "Volume", "titleAngle": 0, "titleAlign": "left", "titleBaseline": "alphabetic", "titleX": -780, "titleY": 417, "titleFontSize": 12.5, "titleFontWeight": "normal",
        "values": [2500000, 5000000, 7500000, 9920000],
        "labelExpr": "datum.value > 9000000 ? '' : format(datum.value / 1000000, '.1f') + ' M'",
        "labelAlign": "left", "labelPadding": -4.5, "ticks": false,
        "grid": true, "gridColor": {"condition": {"test": "datum.value > 9000000", "value": "black"}, "value": "#c8c8c8"},
        "gridWidth": {"condition": {"test": "datum.value > 9000000", "value": 1.5}, "value": 1.2},
        "domain": true, "domainColor": "black", "domainWidth": 2}},
    "color": {"field": "c", "type": "nominal", "scale": {"domain": ["up", "down", "flat"], "range": ["#4db34d", "#ff0000", "#a8a8a8"]}, "legend": null}}},
  {"data": {"name": "years"}, "mark": {"type": "text", "fontSize": 12.5, "font": "Liberation Sans", "color": "black", "align": "center", "baseline": "middle", "dy": 1},
   "encoding": {
    "x": {"field": "d", "type": "temporal",
      "scale": {"domain": [{"year":2009,"month":5,"date":1},{"year":2024,"month":5,"date":19}], "range": [0, 788]},
      "axis": {"orient": "top", "title": null, "labels": false, "ticks": false, "domain": false, "grid": true, "gridColor": "black", "gridWidth": 1.5,
        "values": [{"year":2010,"month":1,"date":1},{"year":2011,"month":1,"date":1},{"year":2012,"month":1,"date":1},{"year":2013,"month":1,"date":1},{"year":2014,"month":1,"date":1},{"year":2015,"month":1,"date":1},{"year":2016,"month":1,"date":1},{"year":2017,"month":1,"date":1},{"year":2018,"month":1,"date":1},{"year":2019,"month":1,"date":1},{"year":2020,"month":1,"date":1},{"year":2021,"month":1,"date":1},{"year":2022,"month":1,"date":1},{"year":2023,"month":1,"date":1},{"year":2024,"month":1,"date":1}]}},
    "y": {"datum": 0.5, "type": "quantitative",
      "scale": {"domain": [0, 2], "range": [541, 508.5], "nice": false, "zero": false},
      "axis": {"orient": "left", "offset": -788, "title": null, "labels": false, "values": [0, 1, 2],
        "grid": true, "gridColor": "black", "gridWidth": {"condition": {"test": "datum.value == 2", "value": 2}, "value": 1.5},
        "ticks": true, "tickSize": -39, "tickWidth": 2, "tickColor": {"condition": {"test": "datum.value == 2", "value": "black"}, "value": "transparent"},
        "domain": true, "domainColor": "black", "domainWidth": 2}},
    "text": {"field": "yr"}}}
],
"resolve": {"scale": {"y": "independent"}, "axis": {"x": "independent", "y": "independent"}}
}
